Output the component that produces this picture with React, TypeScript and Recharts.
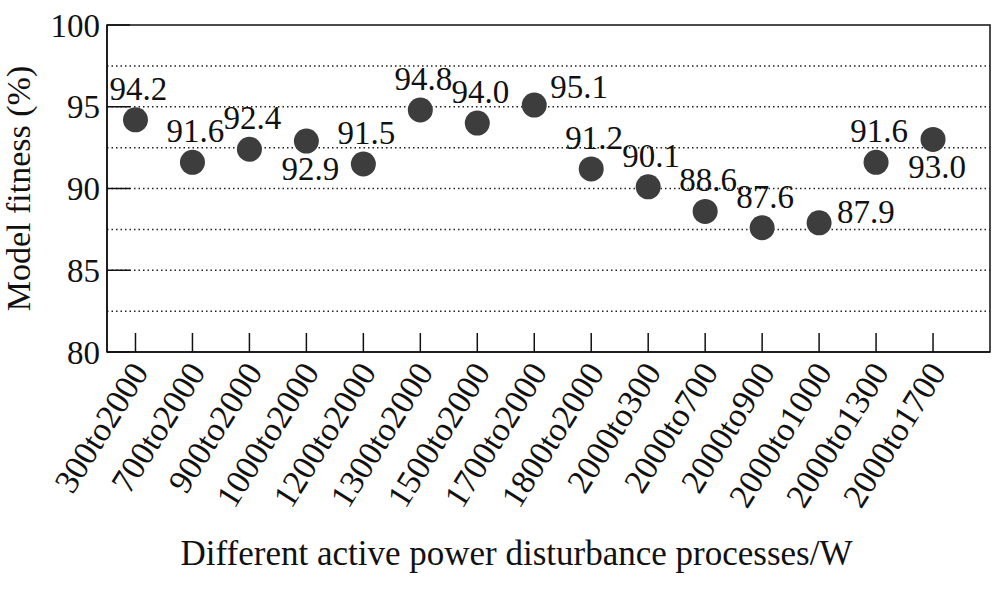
import React from "react";
import {
  ScatterChart,
  Scatter,
  XAxis,
  YAxis,
  ReferenceLine,
  ReferenceArea,
} from "recharts";

const processes = [
  "300to2000",
  "700to2000",
  "900to2000",
  "1000to2000",
  "1200to2000",
  "1300to2000",
  "1500to2000",
  "1700to2000",
  "1800to2000",
  "2000to300",
  "2000to700",
  "2000to900",
  "2000to1000",
  "2000to1300",
  "2000to1700",
];

const fitness = [
  94.2, 91.6, 92.4, 92.9, 91.5, 94.8, 94.0, 95.1, 91.2, 90.1, 88.6, 87.6, 87.9,
  91.6, 93.0,
];

// where each value label sits relative to its dot
const labelPlacement = [
  "top", "top", "top", "bottom", "top", "top", "top", "upright",
  "top", "top", "top", "top", "right", "top", "bottom",
];

const yTicks = [80, 85, 90, 95, 100];
const gridValues = [82.5, 85, 87.5, 90, 92.5, 95, 97.5];

const FONT = "'Liberation Serif', 'Times New Roman', Times, serif";
const DOT = "#3d3d3d";

const data = processes.map((name, i) => ({ x: i, y: fitness[i], name }));

const placements: Record<string, { dx: number; dy: number; anchor: string }> = {
  top: { dx: 3, dy: -20, anchor: "middle" },
  bottom: { dx: 4, dy: 39, anchor: "middle" },
  upright: { dx: 16, dy: -7, anchor: "start" },
  right: { dx: 18, dy: 0, anchor: "start" },
};

function DotWithLabel(props: any) {
  const { cx, cy, payload } = props;
  const p = placements[labelPlacement[payload.x]];
  return (
    <g>
      <circle cx={cx} cy={cy} r={12.5} fill={DOT} />
      <text
        x={cx + p.dx}
        y={cy + p.dy}
        textAnchor={p.anchor as any}
        style={{ fontFamily: FONT, fontSize: 33 }}
        fill="#111"
      >
        {payload.y.toFixed(1)}
      </text>
    </g>
  );
}

function ProcessTick({ x, y, payload }: any) {
  const tx = x + 14;
  const ty = y + 19;
  return (
    <text
      x={tx}
      y={ty}
      transform={`rotate(-58, ${tx}, ${ty})`}
      textAnchor="end"
      style={{ fontFamily: FONT, fontSize: 34 }}
      fill="#111"
    >
      {processes[payload.value]}
    </text>
  );
}

export default function App() {
  return (
    <div
      style={{
        position: "absolute",
        left: 0,
        top: 0,
        background: "#fff",
        fontFamily: FONT,
      }}
    >
      <ScatterChart
        width={992}
        height={589}
        margin={{ top: 25, right: 2, left: 0, bottom: 0 }}
      >
        {gridValues.map((v) => (
          <ReferenceLine
            key={v}
            y={v}
            stroke="#222"
            strokeWidth={1.5}
            strokeDasharray="1.5 3"
          />
        ))}
        <ReferenceArea
          x1={-0.5}
          x2={15}
          y1={80}
          y2={100}
          fill="none"
          stroke="#111"
          strokeWidth={1.5}
          fillOpacity={0}
        />
        <XAxis
          type="number"
          dataKey="x"
          domain={[-0.5, 15]}
          ticks={processes.map((_, i) => i)}
          interval={0}
          allowDataOverflow
          height={237}
          tickSize={-19}
          tickMargin={20}
          axisLine={{ stroke: "#111", strokeWidth: 1.5 }}
          tickLine={{ stroke: "#111", strokeWidth: 1.5 }}
          tick={<ProcessTick />}
          label={{
            content: ({ viewBox }: any) => (
              <text
                x={viewBox.x + viewBox.width / 2 - 32}
                y={viewBox.y + 213}
                textAnchor="middle"
                style={{ fontFamily: FONT, fontSize: 35 }}
                fill="#111"
              >
                Different active power disturbance processes/W
              </text>
            ),
          }}
        />
        <YAxis
          type="number"
          dataKey="y"
          domain={[80, 100]}
          ticks={yTicks}
          interval={0}
          width={107}
          tickSize={-23}
          tickMargin={30}
          axisLine={{ stroke: "#111", strokeWidth: 1.5 }}
          tickLine={{ stroke: "#111", strokeWidth: 1.5 }}
          tick={{ style: { fontFamily: FONT, fontSize: 33 }, fill: "#111" }}
          label={{
            content: ({ viewBox }: any) => {
              const lx = viewBox.x + 30;
              const ly = viewBox.y + viewBox.height / 2;
              return (
                <text
                  x={lx}
                  y={ly}
                  transform={`rotate(-90, ${lx}, ${ly})`}
                  textAnchor="middle"
                  style={{ fontFamily: FONT, fontSize: 34 }}
                  fill="#111"
                >
                  Model fitness (%)
                </text>
              );
            },
          }}
        />
        <Scatter
          data={data}
          shape={<DotWithLabel />}
          isAnimationActive={false}
        />
      </ScatterChart>
    </div>
  );
}
